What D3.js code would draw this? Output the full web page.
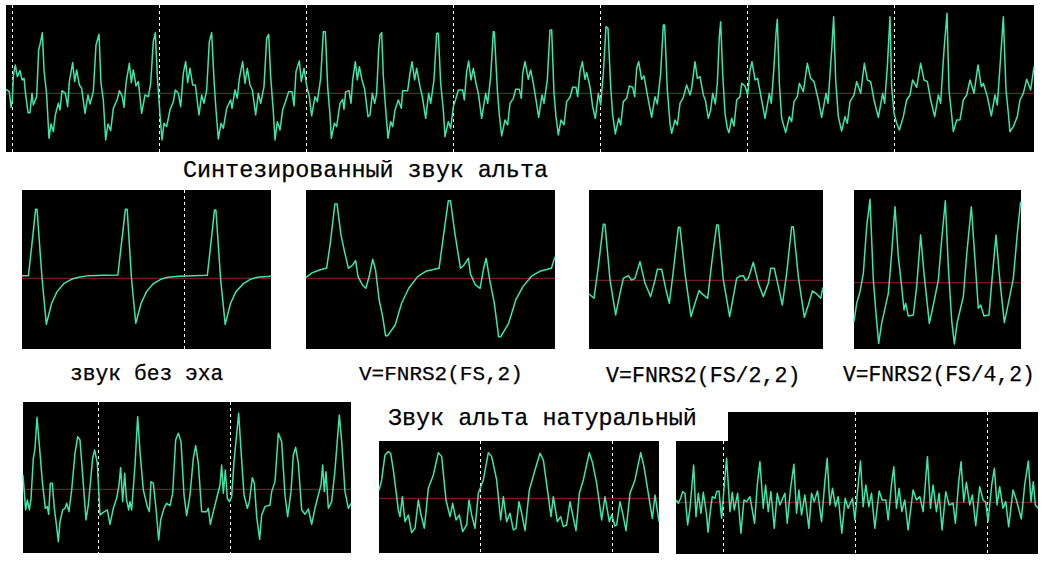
<!DOCTYPE html>
<html><head><meta charset="utf-8">
<style>html,body{margin:0;padding:0;background:#fff}svg{display:block}</style>
<script src="https://cdn.jsdelivr.net/npm/d3@7"></script></head><body>
<svg id="c" width="1051" height="568"></svg>
<script>
// Samples: [time, amplitude].
const signalTop = [[18,12],[28,5],[33,-42],[37,-20],[40,52],[46,85],[52,50],[60,68],[66,40],[72,45],[77,-5],[84,-58],[90,-58],[96,0],[100,-35],[110,-10],[116,130],[122,155],[127,182],[132,70],[140,-5],[147,-135],[153,-92],[160,-115],[166,-65],[175,-30],[180,-50],[186,8],[196,0],[203,-40],[208,35],[218,92],[224,35],[230,70],[238,25],[245,15],[255,-60],[264,-5],[270,-32],[280,5],[288,145],[297,177],[303,30],[310,-20],[317,-140],[324,-92],[332,-112],[340,-45],[352,-18],[358,8],[367,-10],[372,-42],[378,30],[388,90],[394,32],[400,70],[408,22],[415,35],[425,-60],[435,-5],[445,-10],[452,30],[460,155],[466,182],[472,50],[480,-65],[486,-140],[492,-90],[500,-100],[510,-50],[520,-25],[526,10],[535,0],[542,-40],[550,60],[557,95],[563,32],[570,75],[578,25],[586,25],[597,-65],[605,-5],[612,-30],[620,10],[628,155],[635,182],[642,40],[648,-50],[655,-137],[663,-90],[670,-105],[680,-45],[692,-20],[696,-45],[705,10],[712,-15],[718,45],[728,95],[735,30],[742,75],[750,25],[757,10],[767,-65],[775,0],[782,-30],[792,20],[800,165],[806,177],[812,50],[820,-55],[825,-140],[832,-85],[840,-110],[848,-50],[858,-20],[866,5],[876,5],[882,-38],[888,65],[898,97],[904,35],[912,75],[920,22],[928,-10],[935,-68],[945,-10],[952,-25],[962,45],[970,185],[976,185],[983,20],[990,-65],[994,-135],[1003,-90],[1010,-100],
[1020,-30],[1028,-18],[1032,-48],[1037,5],[1047,8],[1053,-30],[1058,40],[1066,95],[1072,40],[1078,80],[1086,40],[1094,12],[1104,-70],[1110,-65],[1117,0],[1124,-30],[1130,0],[1136,130],[1140,175],[1145,182],[1150,50],[1156,-35],[1164,-135],[1172,-85],[1178,-100],[1185,-50],[1195,-20],[1204,-45],[1208,8],[1223,8],[1230,60],[1236,95],[1244,40],[1250,75],[1260,20],[1267,-10],[1277,-75],[1286,0],[1292,-30],[1302,40],[1310,180],[1315,180],[1322,30],[1330,-50],[1335,-130],[1345,-85],[1352,-105],[1360,-40],[1367,-18],[1375,10],[1388,10],[1393,-20],[1400,65],[1406,97],[1413,40],[1420,75],[1428,30],[1435,0],[1445,-75],[1457,0],[1463,-30],[1472,50],[1480,185],[1483,185],[1492,10],[1498,-65],[1505,-128],[1515,-80],[1523,-95],[1530,-30],[1540,-15],[1547,12],[1558,12],[1564,-15],[1568,60],[1575,95],[1585,42],[1592,70],[1600,30],[1608,-20],[1616,-72],[1626,-5],[1632,-30],[1642,40],[1650,190],[1655,190],[1662,0],[1668,-70],[1675,-125],[1683,-80],[1692,-95],[1700,-25],[1710,-12],[1718,18],[1728,18],[1733,-10],[1740,65],[1747,95],[1755,42],[1760,62],[1770,20],[1778,-40],[1786,-75],[1795,0],[1802,-35],[1810,60],[1818,200],[1824,195],[1832,20],[1838,-65],[1846,-122],[1856,-75],[1862,-95],[1870,-25],[1880,-15],[1888,22],[1898,18],[1904,-10],[1910,75],[1916,95],[1925,42],[1932,52],[1942,-5],[1955,-72],[1965,-10],[1972,-32],[1982,60],[1990,205],[1994,205],[2002,10],[2010,-90],[2015,-120],[2025,-80],[2032,-95],[2040,-30],[2050,-12],[2060,25],
[2070,-5],[2075,15],[2085,95],[2092,45],[2100,50],[2110,-5],[2116,-20],[2125,-75],[2132,-50],[2138,0],[2146,-32],[2152,30],[2158,170],[2162,215],[2168,60],[2175,-60],[2182,-105],[2187,-118],[2195,-75],[2202,-98],[2210,-20],[2220,-10],[2225,30],[2235,22],[2243,-5],[2250,70],[2256,95],[2265,40],[2273,45],[2282,-5],[2295,-75],[2308,0],[2314,-30],[2322,80],[2328,180],[2332,222],[2338,30],[2345,-75],[2357,-118],[2368,-70],[2375,-85],[2382,-25],[2392,-10],[2398,30],[2410,5],[2422,90],[2432,45],[2442,35],[2455,-20],[2465,-72],[2478,0],[2484,-30],[2495,130],[2501,230],[2507,40],[2515,-70],[2525,-113],[2535,-70],[2542,-90],[2550,-25],[2562,-5],[2570,35],[2582,0],[2593,90],[2602,40],[2612,35],[2622,-20],[2635,-72],[2648,0],[2654,-30],[2662,80],[2670,230],[2675,20],[2682,-60],[2690,-90],[2698,-110],[2710,-70],[2720,-20],[2730,-5],[2738,40],[2750,18],[2762,90],[2772,40],[2782,35],[2792,-20],[2804,-70],[2815,-5],[2822,-30],[2832,130],[2841,240],[2847,10],[2855,-65],[2860,-115],[2870,-80],[2880,-80],[2890,-20],[2900,-5],[2910,40],[2922,0],[2934,85],[2944,20],[2950,30],[2962,-10],[2974,-68],[2985,-5],[2992,-35],[3002,110],[3010,230],[3018,10],[3025,-60],[3030,-115],[3040,-100],[3052,-70],[3060,-20],[3070,0],[3080,42],[3092,10],[3102,80]];
const signalNoEcho = [[62,8],[80,8],[90,105],[100,207],[104,207],[118,0],[130,-138],[145,-75],[160,-40],[180,-15],[200,-3],[220,3],[250,8],[290,9],[330,10],[340,105],[351,207],[356,207],[368,0],[380,-135],[395,-75],[410,-40],[430,-15],[450,-3],[470,3],[500,6],[540,8],[580,9],[590,105],[600,205],[604,205],[617,0],[630,-138],[645,-75],[660,-40],[680,-17],[700,-3],[720,3],[758,6]];
const signalFs = [[857,3],[875,17],[895,25],[915,31],[925,105],[938,223],[944,223],[955,130],[965,80],[976,30],[988,40],[996,53],[1003,5],[1015,-20],[1025,-30],[1035,10],[1044,57],[1052,25],[1062,-65],[1072,-115],[1080,-172],[1086,-172],[1107,-140],[1125,-75],[1145,-30],[1170,5],[1195,22],[1230,30],[1242,125],[1256,233],[1262,233],[1275,130],[1290,30],[1300,40],[1312,60],[1318,13],[1332,-20],[1345,-30],[1355,30],[1362,60],[1372,-5],[1385,-75],[1397,-175],[1403,-175],[1425,-135],[1445,-65],[1465,-25],[1490,7],[1515,22],[1545,30],[1555,65]];
const signalFs2 = [[27,-41],[42,-54],[55,41],[70,168],[75,168],[90,1],[107,-104],[120,-39],[130,6],[145,14],[155,1],[165,6],[180,56],[195,-9],[212,-49],[225,1],[232,33],[245,33],[258,-29],[268,-69],[278,11],[295,159],[300,159],[315,21],[333,-109],[345,-69],[357,-31],[370,-44],[383,-54],[395,51],[410,166],[415,166],[430,1],[449,-109],[460,-49],[470,6],[480,13],[490,14],[497,-1],[505,6],[520,54],[535,-9],[550,-49],[565,-9],[572,36],[583,36],[595,-19],[607,-74],[620,21],[635,161],[640,161],[655,11],[673,-111],[685,-74],[697,-32],[710,-41],[722,-54],[729,-21]];
const signalFs4 = [[822,-117],[830,-62],[840,-27],[850,28],[860,168],[870,250],[880,8],[888,-92],[896,-182],[905,-122],[915,-77],[925,-32],[935,88],[945,228],[955,78],[965,-12],[972,-82],[977,-62],[985,-100],[1000,-97],[1010,-12],[1022,143],[1032,28],[1048,-122],[1060,-67],[1075,8],[1085,128],[1096,246],[1105,48],[1115,-112],[1123,-184],[1132,-117],[1150,-42],[1160,83],[1174,228],[1185,68],[1195,-77],[1202,-67],[1212,-100],[1227,-97],[1235,-2],[1248,143],[1258,23],[1273,-120],[1285,-62],[1300,13],[1312,148],[1322,243]];
const signalNatA = [[39,43],[42,3],[47,-62],[52,-32],[58,-62],[63,-29],[70,93],[75,123],[81,216],[88,133],[97,23],[106,-57],[112,-52],[116,-75],[121,18],[127,18],[133,-57],[140,-112],[145,-157],[150,-97],[158,-62],[165,-57],[170,-42],[177,-67],[185,-2],[195,108],[203,158],[210,148],[218,43],[228,-92],[235,-47],[248,93],[254,118],[262,78],[270,-77],[280,-69],[292,-62],[300,-105],[310,-57],[320,-27],[327,13],[332,65],[338,-37],[344,48],[349,-27],[356,-62],[360,-37],[365,-62],[375,73],[383,218],[390,113],[400,-2],[412,-52],[418,-67],[423,23],[430,18],[438,-57],[446,-152],[452,-92],[462,-57],[470,-42],[480,-49],[488,-12],[497,148],[505,168],[513,143],[522,-17],[530,-79],[540,-17],[550,93],[557,131],[565,78],[575,-67],[590,-67],[595,-57],[601,-105],[610,-67],[620,-27],[630,13],[635,73],[640,-12],[646,58],[652,-27],[658,-37],[665,-22],[672,83],[686,228],[692,133],[702,-17],[712,-57],[718,-37],[727,35],[733,18],[740,-82],[749,-150],[755,-77],[765,-52],[780,-47],[785,-7],[795,23],[805,168],[815,143],[825,-17],[833,-82],[843,-7],[850,103],[857,126],[865,78],[875,-62],[885,-75],[895,-59],[905,-105],[915,-57],[925,-17],[933,13],[938,73],[943,-7],[948,53],[955,-57],[965,-37],[975,58],[988,223],[995,143],[1005,-7],[1015,-57],[1023,-42]];
const signalNatB = [[27,23],[35,55],[45,130],[55,140],[62,135],[70,85],[85,-35],[90,-55],[97,5],[105,-70],[115,-50],[125,-103],[135,-90],[145,-5],[152,-45],[163,-90],[175,30],[190,70],[205,137],[215,125],[228,-5],[240,-55],[248,-15],[258,-65],[268,-50],[278,-100],[290,-80],[297,-5],[305,-50],[315,-90],[325,15],[340,55],[355,137],[365,125],[380,55],[392,-65],[400,5],[410,-70],[420,-45],[430,-95],[438,-90],[447,-10],[455,-45],[465,-97],[478,25],[495,85],[510,135],[520,115],[535,5],[543,-55],[550,5],[562,-70],[572,-55],[580,-85],[590,-80],[600,-10],[608,-50],[618,-97],[628,15],[640,55],[658,137],[668,105],[680,45],[695,-65],[705,5],[718,-70],[725,-50],[735,-83],[740,-80],[750,-10],[758,-45],[768,-97],[780,15],[795,55],[812,137],[822,95],[838,-5],[847,-60],[855,10],[867,-70]];
const signalNatC = [[18,7],[25,-3],[32,12],[38,32],[45,27],[53,-68],[60,-18],[66,52],[71,112],[78,-43],[85,27],[93,-33],[100,30],[110,-38],[114,-90],[122,-18],[127,17],[135,12],[140,32],[147,34],[155,-48],[163,52],[170,132],[175,52],[180,-28],[187,30],[193,-23],[203,27],[213,-93],[222,7],[230,2],[240,17],[254,-63],[262,52],[270,122],[280,-18],[287,52],[295,-28],[303,32],[313,-78],[322,27],[330,-8],[345,27],[352,-63],[362,42],[372,114],[380,-33],[387,37],[395,-38],[405,22],[417,-78],[425,27],[433,2],[443,34],[455,-58],[465,62],[472,132],[480,-8],[488,42],[497,-13],[505,17],[516,-93],[526,12],[535,-18],[548,12],[555,-53],[565,52],[572,124],[580,-13],[588,52],[597,-13],[605,27],[615,-78],[628,34],[637,7],[648,7],[655,-53],[665,52],[672,107],[680,-18],[688,42],[696,-28],[705,7],[715,-83],[730,37],[740,7],[750,17],[760,-28],[768,72],[773,137],[782,-18],[790,52],[800,-28],[808,27],[817,-83],[828,32],[838,-8],[850,-3],[857,-63],[867,62],[874,122],[882,2],[890,60],[900,-8],[908,22],[918,-70],[930,47],[940,7],[948,0],[955,-58],[966,52],[974,102],[982,-8],[990,47],[1000,-18],[1008,2],[1017,-73],[1030,37],[1040,7],[1055,-50],[1065,52],[1076,124],[1084,2],[1091,62],[1097,-8],[1105,-18]];

// Period markers (dashed) in the time units of each signal
const marksTop = [37,478,919,1360,1801,2242,2683];
const marksNoEcho = [516];
const marksNatA = [265,661];
const marksNatB = [331,727];
const marksNatC = [160,556,952];

// Text
const captions = ["Синтезированный звук альта","звук без эха","V=FNRS2(FS,2)","V=FNRS2(FS/2,2)","V=FNRS2(FS/4,2)","Звук альта натуральный"];

// Layout: box in px, time domain, zero position; amplitude reads 3 units per px.
const panels = [
 {s:signalTop,   m:marksTop,   x:[6,1034],  y:[5,152],   z:93.3,  t:[18,3102]},
 {s:signalNoEcho,m:marksNoEcho,x:[22,271],  y:[190,349], z:278.3, t:[62,758]},
 {s:signalFs,    m:[],         x:[306,555], y:[190,349], z:278.3, t:[857,1555]},
 {s:signalFs2,   m:[],         x:[589,823], y:[190,349], z:280.3, t:[27,729]},
 {s:signalFs4,   m:[],         x:[854,1021],y:[190,349], z:282.7, t:[822,1323]},
 {s:signalNatA,  m:marksNatA,  x:[23,351],  y:[402,553], z:489.3, t:[39,1023]},
 {s:signalNatB,  m:marksNatB,  x:[379,659], y:[441,553], z:498.3, t:[27,867]},
 {s:signalNatC,  m:marksNatC,  x:[676,1038],y:[441,554], z:502.3, t:[18,1105], ext:{x:[728,1038],y:[412,441]}}
];
const textPos = [[183,177,23.4],[70,380,21.3],[359,380,21],[606,382,21.6],[843,381,21.3],[388,425,23.4]];

const svg = d3.select("#c");
svg.append("rect").attr("width",1051).attr("height",568).attr("fill","#fff");

panels.forEach(p=>{
  const xS = d3.scaleLinear().domain(p.t).range(p.x);
  const top = p.ext ? p.ext.y[0] : p.y[0];
  const yS = d3.scaleLinear().domain([(p.z-top)*3,(p.z-p.y[1])*3]).range([top,p.y[1]]);
  const g = svg.append("g");
  g.append("rect").attr("x",p.x[0]).attr("y",p.y[0]).attr("width",p.x[1]-p.x[0]).attr("height",p.y[1]-p.y[0]).attr("fill","#000");
  if(p.ext) g.append("rect").attr("x",p.ext.x[0]).attr("y",p.ext.y[0]).attr("width",p.ext.x[1]-p.ext.x[0]).attr("height",p.ext.y[1]-p.ext.y[0]).attr("fill","#000");
  g.append("line").attr("x1",p.x[0]).attr("x2",p.x[1]).attr("y1",yS(0)).attr("y2",yS(0)).attr("stroke","#8a2433").attr("stroke-width",1);
  p.m.forEach(t=>{
    const mx = Math.round(xS(t))+0.5;
    const y0 = p.ext && mx < p.ext.x[0] ? p.y[0] : top;
    g.append("line").attr("x1",mx).attr("x2",mx).attr("y1",y0).attr("y2",p.y[1]).attr("stroke","#fff").attr("stroke-width",1).attr("stroke-dasharray","3,3");
  });
  g.append("path").attr("d",d3.line().x(d=>xS(d[0])).y(d=>yS(d[1]))(p.s)).attr("fill","none").attr("stroke","#3ce6a8").attr("stroke-width",1.5).attr("stroke-linejoin","round");
});

captions.forEach((c,i)=>{
  const [x,y,fs]=textPos[i];
  svg.append("text").attr("x",x).attr("y",y).attr("font-family","'Liberation Mono',monospace").attr("font-size",fs).attr("fill","#000").attr("stroke","#000").attr("stroke-width",0.25).text(c);
});
</script></body></html>
